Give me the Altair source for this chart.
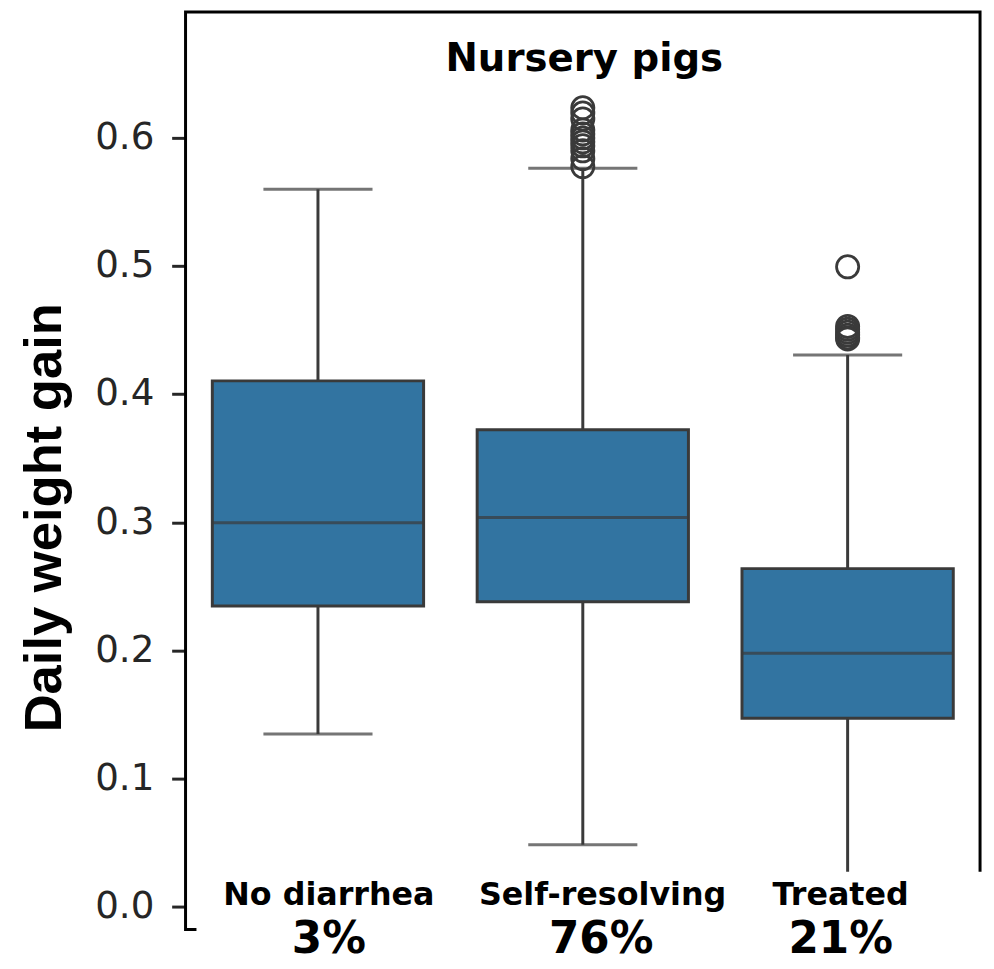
import altair as alt
import pandas as pd

# ---- data ----
groups = ["No diarrhea", "Self-resolving", "Treated"]
pct_labels = ["3%", "76%", "21%"]
q1 = [0.2346, 0.2379, 0.1471]
median = [0.2996, 0.3037, 0.1977]
q3 = [0.4103, 0.3721, 0.2638]
whisker_low = [0.1348, 0.0483, 0.005]
whisker_high = [0.5599, 0.5762, 0.4304]

outlier_group = (["Self-resolving"] * 11) + (["Treated"] * 7)
outlier_value = [0.6234, 0.6193, 0.6146, 0.6061, 0.6030, 0.5999, 0.5968,
                 0.5937, 0.5898, 0.5837, 0.5775,
                 0.4993, 0.4528, 0.4505, 0.4482, 0.4460, 0.4440, 0.4430]

y_ticks = [0.0, 0.1, 0.2, 0.3, 0.4, 0.5, 0.6]
y_domain = [-0.0177, 0.6982]

# ---- styling ----
FILL = "#3274a1"
LINE = "#3a3a3a"
W, H = 801, 925

box_df = pd.DataFrame({
    "group": groups, "q1": q1, "median": median, "q3": q3,
    "low": whisker_low, "high": whisker_high, "pct": pct_labels,
})
out_df = pd.DataFrame({"group": outlier_group, "value": outlier_value})
one = pd.DataFrame({"k": [0]})

xenc = alt.X("group:N", sort=groups,
             scale=alt.Scale(domain=groups, paddingInner=0, paddingOuter=0),
             axis=None)

yaxis = alt.Axis(values=y_ticks, format=".1f", grid=False, domain=False,
                 tickSize=14, tickWidth=3, tickColor="#262626",
                 labelFont="DejaVu Sans", labelFontSize=37.5, labelColor="#262626",
                 labelPadding=18,
                 title="Daily weight gain", titleFont="Liberation Sans",
                 titleFontSize=53, titleFontWeight="bold", titleColor="black",
                 titleAngle=270, titleAlign="center", titleBaseline="alphabetic",
                 titleX=-126, titleY=509.5)
yscale = alt.Scale(domain=y_domain, nice=False, zero=False)


def Y(field):
    return alt.Y(field, scale=yscale, axis=yaxis)


frame = alt.Chart(one).mark_rect(filled=False, stroke="black", strokeWidth=3).encode(
    x=alt.value(0), x2=alt.value(W), y=alt.value(0), y2=alt.value(H))

whisk = alt.Chart(box_df).mark_rule(color=LINE, strokeWidth=3).encode(
    x=xenc, y=Y("low:Q"), y2="high:Q")

boxes = alt.Chart(box_df).mark_bar(size=213, color=FILL, stroke=LINE, strokeWidth=3).encode(
    x=xenc, y=Y("q1:Q"), y2="q3:Q")

med = alt.Chart(box_df).mark_tick(orient="horizontal", size=213, thickness=3, color=LINE).encode(
    x=xenc, y=Y("median:Q"))

cap_lo = alt.Chart(box_df).mark_tick(orient="horizontal", size=110, thickness=3, color=LINE).encode(
    x=xenc, y=Y("low:Q"))
cap_hi = alt.Chart(box_df).mark_tick(orient="horizontal", size=110, thickness=3, color=LINE).encode(
    x=xenc, y=Y("high:Q"))

outl = alt.Chart(out_df).mark_point(shape="circle", filled=False, size=500,
                                    stroke=LINE, strokeWidth=2.8, opacity=1).encode(
    x=xenc, y=Y("value:Q"))

title = alt.Chart(one).mark_text(text="Nursery pigs", font="DejaVu Sans", fontWeight="bold",
                                 fontSize=39, color="black", align="center",
                                 baseline="alphabetic").encode(
    x=alt.value(402), y=alt.value(60))

white = alt.Chart(one).mark_rect(color="white").encode(
    x=alt.value(11), x2=alt.value(803), y=alt.value(867), y2=alt.value(961))

name_dx = [11, 20, -7]
pct_dx = [11, 18.5, -7]
label_layers = []
for g, ndx, pdx in zip(groups, name_dx, pct_dx):
    base = alt.Chart(box_df).transform_filter(alt.datum.group == g)
    label_layers.append(base.mark_text(font="DejaVu Sans", fontWeight="bold", fontSize=32,
                                       color="black", align="center", baseline="alphabetic",
                                       dx=ndx).encode(
        x=xenc, y=alt.value(900), text="group:N"))
    label_layers.append(base.mark_text(font="DejaVu Sans", fontWeight="bold", fontSize=44,
                                       color="black", align="center", baseline="alphabetic",
                                       dx=pdx).encode(
        x=xenc, y=alt.value(949), text="pct:N"))

chart = alt.layer(frame, whisk, boxes, med, cap_lo, cap_hi, outl, title, white,
                  *label_layers).properties(
    width=W, height=H,
    autosize=alt.AutoSizeParams(type="none"),
    padding={"left": 179, "top": 0, "right": 6, "bottom": 36},
    background="white",
).configure_view(stroke=None)

chart.save("out.html", embed_options={"renderer": "svg", "actions": False})
